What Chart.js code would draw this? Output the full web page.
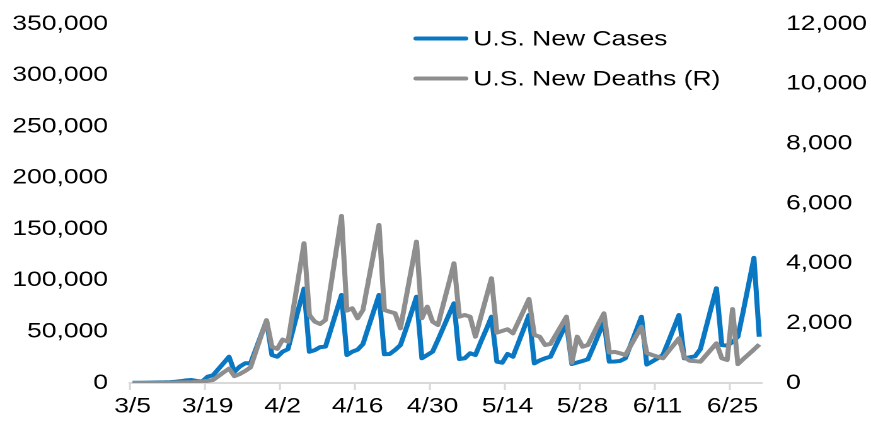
<!DOCTYPE html>
<html><head><meta charset="utf-8">
<script src="https://cdn.jsdelivr.net/npm/chart.js@4/dist/chart.umd.min.js"></script>
<style>
html,body{margin:0;padding:0;background:#fff;overflow:hidden;width:871px;height:425px}
#wrap{width:871px;height:425px;overflow:hidden;position:relative}
#c{display:block;transform:scaleX(1.2605);transform-origin:0 0}
</style></head><body>
<div id="wrap"><canvas id="c" width="691" height="425"></canvas></div>
<script>
const categories = [
 '3/5','3/6','3/7','3/8','3/9','3/10','3/11','3/12','3/13','3/14','3/15','3/16','3/17','3/18','3/19','3/20','3/21','3/22','3/23','3/24','3/25','3/26','3/27','3/28','3/29','3/30','3/31',
 '4/1','4/2','4/3','4/4','4/5','4/6','4/7','4/8','4/9','4/10','4/11','4/12','4/13','4/14','4/15','4/16','4/17','4/18','4/19','4/20','4/21','4/22','4/23','4/24','4/25','4/26','4/27','4/28','4/29','4/30',
 '5/1','5/2','5/3','5/4','5/5','5/6','5/7','5/8','5/9','5/10','5/11','5/12','5/13','5/14','5/15','5/16','5/17','5/18','5/19','5/20','5/21','5/22','5/23','5/24','5/25','5/26','5/27','5/28','5/29','5/30','5/31',
 '6/1','6/2','6/3','6/4','6/5','6/6','6/7','6/8','6/9','6/10','6/11','6/12','6/13','6/14','6/15','6/16','6/17','6/18','6/19','6/20','6/21','6/22','6/23','6/24','6/25','6/26','6/27','6/28','6/29','6/30'
];
const newCases = [
 200,250,300,400,500,600,700,900,1200,1800,
 2600,2900,2000,1500,6200,7500,13500,19500,25600,11000,
 16000,19200,19200,33000,47000,60700,27300,25600,30500,33000,
 53000,73000,92000,30500,32000,35000,35400,52000,69000,85800,
 27300,30500,32500,38000,54000,70000,85800,28000,28300,32200,
 37000,52000,68000,84100,24100,27300,30500,42000,54000,66000,
 77700,23400,24100,29000,27300,40000,52000,64600,20800,19800,
 28300,25600,39000,52500,66300,19200,22000,24100,25600,36500,
 47500,58200,18500,20000,21500,23100,35000,47500,59800,20800,
 21000,21500,24100,37500,51000,64600,18000,21000,24000,27300,
 40000,53000,66300,24100,25000,26000,33000,53000,73000,92300,
 37000,36400,40000,45100,70000,96000,122000,45100
];
const newDeaths = [
 1,2,3,4,5,7,9,12,15,20,
 25,30,40,50,70,100,230,360,480,230,
 300,400,520,1050,1580,2100,1213,1140,1450,1380,
 2480,3575,4670,2273,2050,1972,2106,3260,4420,5583,
 2420,2497,2163,2440,3390,4340,5282,2440,2383,2330,
 1829,2800,3760,4724,2163,2551,2049,1939,2630,3310,
 4001,2216,2273,2216,1548,2200,2850,3500,1682,1740,
 1795,1660,2040,2420,2808,1605,1548,1270,1304,1610,
 1910,2216,680,1548,1213,1270,1630,1990,2330,1020,
 1040,993,936,1250,1570,1882,1000,936,880,826,
 1050,1270,1493,859,745,730,712,917,1122,1327,
 826,769,2470,630,800,960,1120,1290
];
const xTickLabels = ['3/5','3/19','4/2','4/16','4/30','5/14','5/28','6/11','6/25'];
const leftAxis = {min: 0, max: 350000, step: 50000};
const rightAxis = {min: 0, max: 12000, step: 2000};
const seriesNames = ['U.S. New Cases', 'U.S. New Deaths (R)'];

const FONT = {family: '"Liberation Sans", Arial, sans-serif', size: 21};
const BLUE = '#0a77c2', GREY = '#8e8e8e', AXIS = '#d9d9d9';

const tickMarks = {
  id: 'tickMarks',
  afterDraw(chart) {
    const xs = chart.scales.x, ctx = chart.ctx;
    ctx.save();
    ctx.strokeStyle = AXIS; ctx.lineWidth = 1.6;
    xs.ticks.forEach(t => {
      const px = xs.getPixelForValue(t.value - 0.5);
      ctx.beginPath(); ctx.moveTo(px, xs.top); ctx.lineTo(px, xs.top + 7); ctx.stroke();
    });
    ctx.restore();
  }
};
const sideLegend = {
  id: 'sideLegend',
  afterDraw(chart) {
    const ctx = chart.ctx;
    const rows = [0, 1].map((i, k) => ({ds: chart.data.datasets[i], y: 38.5 + 40 * k}));
    ctx.save();
    rows.forEach(r => {
      ctx.strokeStyle = r.ds.borderColor; ctx.lineWidth = 4; ctx.lineCap = 'round';
      ctx.beginPath(); ctx.moveTo(330, r.y); ctx.lineTo(369.5, r.y); ctx.stroke();
      ctx.fillStyle = '#000';
      ctx.font = FONT.size + 'px ' + FONT.family;
      ctx.textBaseline = 'middle'; ctx.textAlign = 'left';
      ctx.fillText(r.ds.label, 375.5, r.y + 1);
    });
    ctx.restore();
  }
};
function fixY(width) {
  return s => { s.width = width; s.paddingTop = 0; s.paddingBottom = 0; };
}

new Chart(document.getElementById('c'), {
  type: 'line',
  data: {
    labels: categories,
    datasets: [
      {label: seriesNames[0], data: newCases, yAxisID: 'y', borderColor: BLUE, backgroundColor: BLUE, order: 1},
      {label: seriesNames[1], data: newDeaths, yAxisID: 'y1', borderColor: GREY, backgroundColor: GREY, order: 0}
    ]
  },
  options: {
    responsive: false,
    devicePixelRatio: 2,
    animation: false,
    layout: {padding: {top: 24, bottom: 0, left: 0, right: 0}},
    plugins: {legend: {display: false}, tooltip: {enabled: false}},
    elements: {
      point: {radius: 0, hoverRadius: 0},
      line: {tension: 0, borderWidth: 4, borderJoinStyle: 'round', borderCapStyle: 'butt', fill: false}
    },
    scales: {
      x: {
        type: 'category', offset: true,
        afterBuildTicks(s) { s.ticks = s.ticks.filter(t => xTickLabels.includes(categories[t.value])); },
        ticks: {autoSkip: false, maxRotation: 0, minRotation: 0, padding: 4, color: '#000', font: FONT},
        grid: {display: false, drawTicks: true, tickLength: 7},
        border: {display: true, color: AXIS, width: 2},
        afterFit(s) { s.height = 42; s.paddingLeft = 0; s.paddingRight = 0; }
      },
      y: {
        position: 'left', min: leftAxis.min, max: leftAxis.max,
        ticks: {stepSize: leftAxis.step, padding: 17.4, color: '#000', font: FONT,
                callback: v => v.toLocaleString('en-US')},
        grid: {display: false, drawTicks: false},
        border: {display: false},
        afterFit: fixY(103.1)
      },
      y1: {
        position: 'right', min: rightAxis.min, max: rightAxis.max,
        ticks: {stepSize: rightAxis.step, padding: 19.1, color: '#000', font: FONT,
                callback: v => v.toLocaleString('en-US')},
        grid: {display: false, drawTicks: false},
        border: {display: false},
        afterFit: fixY(86.5)
      }
    }
  },
  plugins: [tickMarks, sideLegend]
});
</script>
</body></html>
